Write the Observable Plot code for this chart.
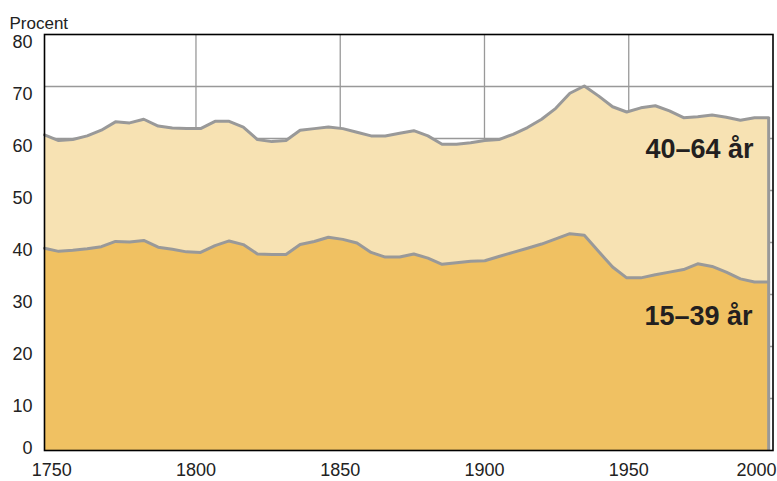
<!DOCTYPE html>
<html><head><meta charset="utf-8">
<script src="https://cdn.jsdelivr.net/npm/d3@7"></script>
<script src="https://cdn.jsdelivr.net/npm/@observablehq/plot@0.6"></script>
<style>body{margin:0;background:#fff}</style>
</head><body><div id="chart"></div>
<script>
// x positions of the data points as placed in the picture
const years = [1747.5,1752.4,1757.3,1762.3,1767.2,1772.1,1777.0,1781.9,1786.9,1791.8,
  1796.7,1801.6,1806.6,1811.5,1816.4,1821.3,1826.3,1831.2,1836.1,1841.0,
  1845.9,1850.9,1855.8,1860.7,1865.6,1870.6,1875.5,1880.4,1885.3,1890.3,
  1895.2,1900.1,1905.0,1909.9,1914.9,1919.8,1924.7,1929.6,1934.6,1939.5,
  1944.4,1949.3,1954.2,1959.2,1964.1,1969.0,1973.9,1978.9,1983.8,1988.7,
  1993.6,1998.5];
// share aged 15–39 (lower line)
const share15to39 = [38.9,38.3,38.5,38.8,39.2,40.2,40.1,40.4,39.1,38.7,
  38.2,38.1,39.4,40.3,39.6,37.8,37.7,37.7,39.6,40.2,
  41.0,40.6,39.9,38.1,37.2,37.2,37.8,37.0,35.8,36.1,
  36.4,36.5,37.3,38.1,38.9,39.7,40.7,41.7,41.4,38.3,
  35.3,33.2,33.2,33.8,34.3,34.8,35.9,35.4,34.3,33.0,
  32.4,32.4];
// cumulative share aged 15–64 (upper line = 15–39 + 40–64)
const share15to64 = [60.7,59.6,59.8,60.5,61.6,63.2,63.0,63.7,62.4,62.0,
  61.9,61.9,63.3,63.3,62.2,59.8,59.4,59.6,61.6,61.9,
  62.2,61.9,61.2,60.5,60.5,61.0,61.5,60.5,58.9,58.9,
  59.2,59.6,59.8,60.8,62.1,63.7,65.8,68.7,70.1,68.2,
  66.1,65.1,65.9,66.3,65.3,64.0,64.2,64.5,64.1,63.5,
  64.0,64.0];
const yTicks = [10,20,30,40,50,60,70,80];
const yZeroTick = [0];
const xTicks = [1750,1800,1850,1900,1950];
const xLastTick = [2000];
const xGrid = [1800,1850,1900,1950];
const yGrid = [10,20,30,40,50,60,70];
const unitLabel = ["Procent"];
const upperLabel = ["40–64 år"];
const lowerLabel = ["15–39 år"];

const data = years.map((year, i) => ({year, low: share15to39[i], high: share15to64[i]}));
const last = [data[data.length - 1]];

const gray = "#999999";
const font = "Liberation Sans, Arial, sans-serif";

const chart = Plot.plot({
  width: 777,
  height: 481,
  marginLeft: 44,
  marginRight: 4.5,
  marginTop: 34,
  marginBottom: 31,
  style: {fontFamily: font, background: "#fff", color: "#222"},
  x: {domain: [1747.5, 2000]},
  y: {domain: [0, 80]},
  marks: [
    Plot.gridY(yGrid, {stroke: gray, strokeOpacity: 1, strokeWidth: 1.3}),
    Plot.gridX(xGrid, {stroke: gray, strokeOpacity: 1, strokeWidth: 1.3}),
    Plot.areaY(data, {x: "year", y1: "low", y2: "high", fill: "#F7E2B3"}),
    Plot.areaY(data, {x: "year", y1: 0, y2: "low", fill: "#F0C162"}),
    Plot.lineY(data, {x: "year", y: "high", stroke: gray, strokeWidth: 3}),
    Plot.lineY(data, {x: "year", y: "low", stroke: gray, strokeWidth: 3}),
    Plot.ruleX(last, {x: "year", y1: 0, y2: "high", stroke: gray, strokeWidth: 3}),
    Plot.frame({stroke: "#000", strokeWidth: 1.6}),
    Plot.axisY(yTicks, {tickSize: 0, tickPadding: 12, fontSize: 18, dy: 8, label: null, fill: "#222"}),
    Plot.axisY(yZeroTick, {tickSize: 0, tickPadding: 12, fontSize: 18, dy: -2.5, label: null, fill: "#222"}),
    Plot.axisX(xTicks, {tickSize: 0, tickPadding: 13, fontSize: 18, label: null, tickFormat: d => String(d), fill: "#222"}),
    Plot.axisX(xLastTick, {tickSize: 0, tickPadding: 13, fontSize: 18, label: null, tickFormat: d => String(d), textAnchor: "end", dx: 3.5, fill: "#222"}),
    Plot.text(unitLabel, {frameAnchor: "top-left", text: d => d, textAnchor: "start", dx: -35, dy: -18, fontSize: 17, fill: "#222"}),
    Plot.text(upperLabel, {frameAnchor: "top-right", text: d => d, textAnchor: "end", dx: -19.5, dy: 104, fontSize: 27, fontWeight: "bold", fill: "#231f20"}),
    Plot.text(lowerLabel, {frameAnchor: "top-right", text: d => d, textAnchor: "end", dx: -20.5, dy: 271, fontSize: 27, fontWeight: "bold", fill: "#231f20"})
  ]
});
document.getElementById("chart").appendChild(chart);
</script>
</body></html>
